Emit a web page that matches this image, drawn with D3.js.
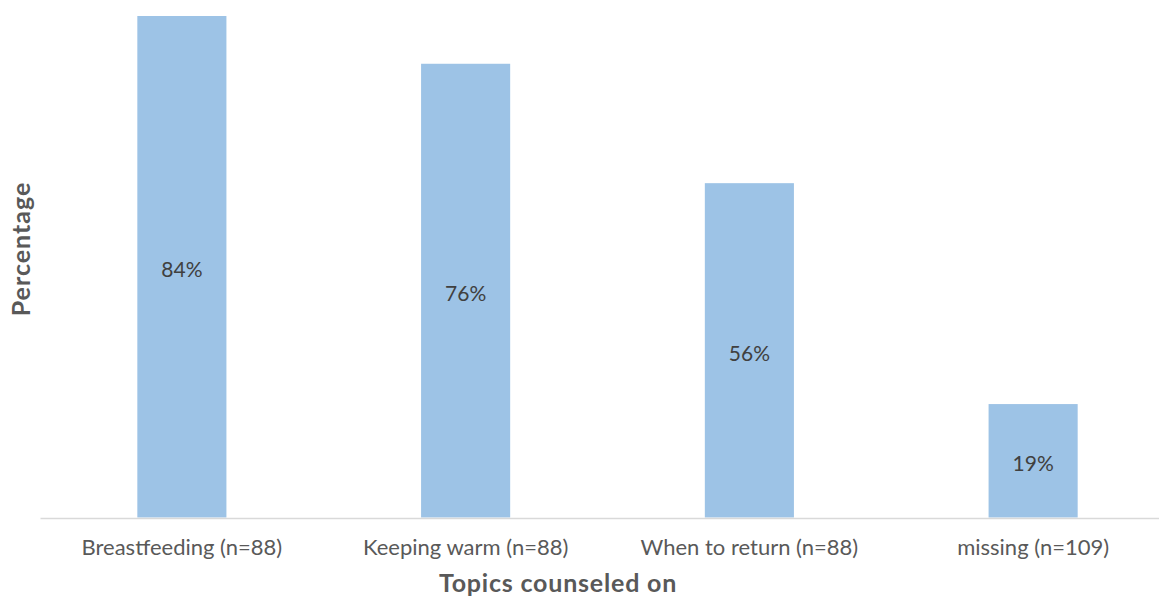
<!DOCTYPE html>
<html>
<head>
<meta charset="utf-8">
<script src="https://cdn.jsdelivr.net/npm/d3@7"></script>
<style>
  html, body { margin: 0; padding: 0; background: #fff; }
  svg { display: block; font-family: "Lato", "Open Sans", sans-serif; }
</style>
</head>
<body>
<svg id="chart" width="1159" height="597"></svg>
<script>
// Share of mothers counseled on each topic
const categories = ["Breastfeeding (n=88)", "Keeping warm (n=88)", "When to return (n=88)", "missing (n=109)"];
const values = [84, 76, 56, 19];
const valueLabels = ["84%", "76%", "56%", "19%"];

const svg = d3.select("#chart");
const textColor = "#595959";
const barColor = "#9DC3E6";

const x = d3.scaleBand().domain(categories).range([40, 1175]).padding(0);
const barFrac = 0.314;
const y = d3.scaleLinear().domain([0, 84]).range([517.5, 16]);

// bars
svg.append("g").selectAll("rect")
  .data(values)
  .join("rect")
  .attr("x", (d, i) => x(categories[i]) + x.bandwidth() * (1 - barFrac) / 2)
  .attr("width", x.bandwidth() * barFrac)
  .attr("y", d => y(d))
  .attr("height", d => y(0) - y(d))
  .attr("fill", barColor);

// value labels, centred in each bar
svg.append("g").selectAll("text")
  .data(values)
  .join("text")
  .attr("x", (d, i) => x(categories[i]) + x.bandwidth() / 2)
  .attr("y", d => (y(d) + y(0)) / 2 + 3)
  .attr("dy", "0.35em")
  .attr("text-anchor", "middle")
  .attr("font-size", 21)
  .attr("fill", "#404040")
  .text((d, i) => valueLabels[i]);

// category axis
const xAxis = svg.append("g")
  .attr("transform", `translate(0,${y(0) + 0.5})`)
  .call(d3.axisBottom(x).tickSize(0).tickPadding(21));
xAxis.select(".domain").attr("stroke", "#d9d9d9").attr("stroke-width", 1.5);
xAxis.selectAll("text")
  .attr("font-size", 22)
  .attr("fill", textColor)
  .attr("font-family", "Lato, 'Open Sans', sans-serif");

// axis titles
svg.append("text")
  .attr("x", 558)
  .attr("y", 592)
  .attr("text-anchor", "middle")
  .attr("font-size", 25)
  .attr("letter-spacing", 0.8)
  .attr("font-weight", "bold")
  .attr("fill", textColor)
  .text("Topics counseled on");

svg.append("text")
  .attr("transform", "translate(30,249) rotate(-90)")
  .attr("text-anchor", "middle")
  .attr("font-size", 25)
  .attr("letter-spacing", 1)
  .attr("font-weight", "bold")
  .attr("fill", textColor)
  .text("Percentage");
</script>
</body>
</html>
